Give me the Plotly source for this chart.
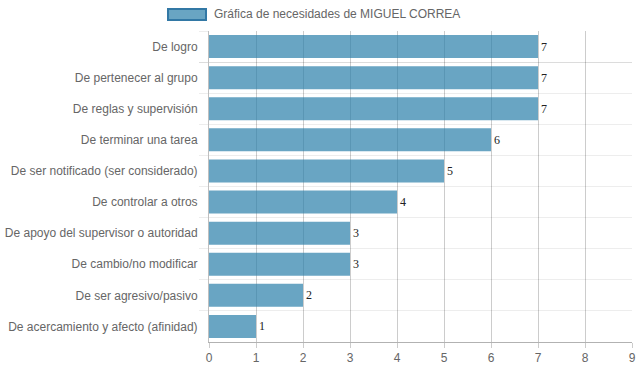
import plotly.graph_objects as go

categories = [
    "De logro",
    "De pertenecer al grupo",
    "De reglas y supervisión",
    "De terminar una tarea",
    "De ser notificado (ser considerado)",
    "De controlar a otros",
    "De apoyo del supervisor o autoridad",
    "De cambio/no modificar",
    "De ser agresivo/pasivo",
    "De acercamiento y afecto (afinidad)",
]
values = [7, 7, 7, 6, 5, 4, 3, 3, 2, 1]
series_name = "Gráfica de necesidades de MIGUEL CORREA"
x_ticks = list(range(0, 10))

bar_fill = "rgba(42,127,170,0.7)"
bar_border = "rgb(50,120,165)"

fig = go.Figure()
fig.add_trace(go.Bar(
    x=values,
    y=categories,
    orientation="h",
    name=series_name,
    marker=dict(color=bar_fill, line=dict(width=0)),
    text=[str(v) for v in values],
    textposition="outside",
    textfont=dict(family="Liberation Serif", size=12, color="#222"),
    cliponaxis=False,
    showlegend=False,
    hoverinfo="skip",
))

# legend-like header (box + label)
fig.add_shape(type="rect", xref="paper", yref="paper",
              x0=(168 - 209) / 423, x1=(206 - 209) / 423,
              y0=1 + (31 - 20) / 311, y1=1 + (31 - 9) / 311,
              fillcolor=bar_fill, line=dict(color=bar_border, width=2))
fig.add_annotation(xref="paper", yref="paper",
                   x=(212 - 209) / 423, y=1 + (31 - 14.5) / 311,
                   xanchor="left", yanchor="middle", showarrow=False,
                   text=series_name,
                   font=dict(family="Liberation Sans", size=12, color="#666"))

fig.update_layout(
    width=639, height=372,
    margin=dict(l=209, r=7, t=31, b=30, autoexpand=False),
    paper_bgcolor="white", plot_bgcolor="white",
    bargap=0.26,
    hovermode=False,
    font=dict(family="Liberation Sans", size=12, color="#666"),
    showlegend=False,
)
fig.update_xaxes(
    range=[0, 9], tickvals=x_ticks, automargin=False,
    showgrid=True, gridcolor="rgba(0,0,0,0.2)", gridwidth=1,
    zeroline=False,
    showline=True, linecolor="rgba(0,0,0,0.3)", linewidth=1,
    ticks="outside", ticklen=5, tickcolor="rgba(0,0,0,0.2)",
    tickfont=dict(size=12, color="#666"),
)
fig.update_yaxes(
    type="category", autorange="reversed", automargin=False,
    tickson="boundaries", zeroline=False,
    showgrid=True, gridcolor="rgba(0,0,0,0.07)", gridwidth=1,
    showline=True, linecolor="rgba(0,0,0,0.25)", linewidth=1,
    ticks="outside", ticklen=9, tickcolor="rgba(0,0,0,0.07)",
    ticklabelstandoff=8,
    tickfont=dict(size=12, color="#666"),
)

fig.write_html(
    "out.html",
    config={"displayModeBar": False, "staticPlot": True},
    post_script="document.body.style.margin='0';document.body.style.overflow='hidden';",
)
